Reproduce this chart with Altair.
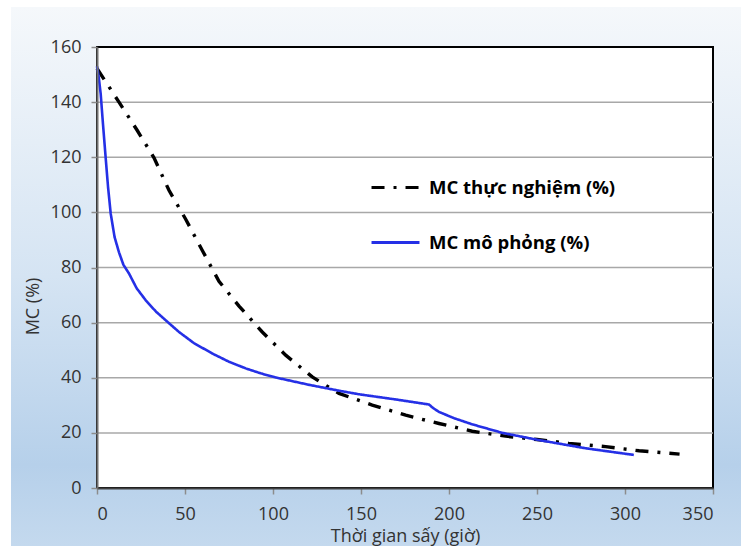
import altair as alt
import pandas as pd

# ---- data ----
exp_name = "MC thực nghiệm (%)"
sim_name = "MC mô phỏng (%)"

exp_t = [0, 12.5, 22.9, 32.4, 40.9, 50.4, 60, 69.3, 80.7, 93.9, 107.2, 122.3,
         137.5, 156.4, 175.4, 194.3, 213.2, 232.2, 250, 268, 289, 308, 331]
exp_v = [152.2, 140, 129.7, 119.8, 108, 97.5, 86, 75, 66, 56.6, 48.2, 40.3,
         34.3, 30.1, 26.4, 23.4, 20.6, 18.8, 17.6, 16.2, 15.0, 13.5, 12.3]

sim_t = [0, 1.0, 2.1, 3.4, 4.9, 6.3, 7.8, 10, 12.5, 15, 18.2, 22.5, 27.7, 33.5, 40,
         46.6, 55, 65.5, 75, 84.5, 93, 101.5, 120, 137.5, 148.9, 170, 188.6,
         191, 194.3, 203, 213.2, 230.3, 251, 277.7, 305]
sim_v = [153, 149, 143, 132, 120, 109, 99.5, 91, 85.5, 81, 77.8, 72.5, 68.1, 64, 60.3,
         56.6, 52.6, 48.8, 45.8, 43.4, 41.6, 40.1, 37.5, 35.3, 34.0, 32.1, 30.3,
         29.0, 27.6, 25.3, 23.1, 20, 17.4, 14.4, 12]

x_ticks = [0, 50, 100, 150, 200, 250, 300, 350]
y_ticks = [0, 20, 40, 60, 80, 100, 120, 140, 160]
grid_vals = [20, 40, 60, 80, 100, 120, 140]

x_title = "Thời gian sấy (giờ)"
y_title = "MC  (%)"

# ---- layout ----
W, H = 616, 441
PAD_L, PAD_T, PAD_R, PAD_B = 97, 47, 28, 58
FONT = "Open Sans"

exp_df = pd.DataFrame({"t": exp_t, "v": exp_v, "series": exp_name})
sim_df = pd.DataFrame({"t": sim_t, "v": sim_v, "series": sim_name})
grid_df = pd.DataFrame({"v": grid_vals})
one = pd.DataFrame({"a": [0]})

xscale = alt.Scale(domain=[0, 350], nice=False, zero=False)
yscale = alt.Scale(domain=[0, 160], nice=False)
names = [exp_name, sim_name]
color_scale = alt.Scale(domain=names, range=["#000000", "#2530e6"])
dash_scale = alt.Scale(domain=names, range=[[13, 9, 3, 9], [1, 0]])

bg = alt.Chart(one).mark_rect(
    color=alt.LinearGradient(
        gradient="linear",
        stops=[
            alt.GradientStop(offset=0, color="#f5f8fb"),
            alt.GradientStop(offset=0.5, color="#d5e4f3"),
            alt.GradientStop(offset=0.85, color="#b6d0ea"),
            alt.GradientStop(offset=1, color="#c4d9ee"),
        ],
        x1=0, x2=0, y1=0, y2=1,
    )
).encode(
    x=alt.value(-(PAD_L - 11)), x2=alt.value(W + PAD_R),
    y=alt.value(-(PAD_T - 7)), y2=alt.value(H + PAD_B),
)

plot_bg = alt.Chart(one).mark_rect(
    fill="white", stroke="black", strokeWidth=2
).encode(x=alt.value(0), x2=alt.value(W), y=alt.value(0), y2=alt.value(H))

legend = alt.Legend(
    title=None, orient="none", legendX=273, legendY=115,
    symbolType="stroke", symbolSize=2300, symbolStrokeWidth=3,
    labelFont=FONT, labelFontSize=18.5, labelFontWeight="bold",
    labelColor="#000000", labelOffset=8, labelLimit=400,
    rowPadding=20, padding=0, zindex=1,
)

xaxis = alt.Axis(
    values=x_ticks, title=x_title, grid=False, format="d",
    domainColor="#404040", domainWidth=2,
    tickColor="#8c8c8c", tickSize=6, tickWidth=1.5,
    labelPadding=11, labelFontSize=18, labelFont=FONT, labelColor="#333333",
    titleFont=FONT, titleFontSize=18, titleFontWeight="normal",
    titleColor="#333333", titleBaseline="alphabetic", titleY=53,
    zindex=1,
)
yaxis = alt.Axis(
    values=y_ticks, title=y_title, grid=False, format="d",
    domainColor="#707070", domainWidth=2,
    tickColor="#8c8c8c", tickSize=6, tickWidth=1.5,
    labelPadding=10, labelFontSize=18, labelFont=FONT, labelColor="#333333",
    titleFont=FONT, titleFontSize=18, titleFontWeight="normal",
    titleColor="#333333", titleX=-55, titleY=259, titleBaseline="bottom",
    zindex=1,
)
xenc = alt.X("t:Q", scale=xscale, axis=xaxis)
yenc = alt.Y("v:Q", scale=yscale, axis=yaxis)

grid = alt.Chart(grid_df).mark_rule(color="#a8a8a8", strokeWidth=1.5).encode(
    y=yenc, x=alt.value(0), x2=alt.value(W),
)

exp_line = alt.Chart(exp_df).mark_line(strokeWidth=3.4, strokeCap="butt").encode(
    x=xenc, y=yenc,
    color=alt.Color("series:N", scale=color_scale, legend=legend),
    strokeDash=alt.StrokeDash("series:N", scale=dash_scale, legend=legend),
)
sim_line = alt.Chart(sim_df).mark_line(strokeWidth=2.6).encode(
    x=xenc, y=yenc,
    color=alt.Color("series:N", scale=color_scale, legend=legend),
    strokeDash=alt.StrokeDash("series:N", scale=dash_scale, legend=legend),
)

chart = alt.layer(bg, plot_bg, grid, exp_line, sim_line).properties(
    width=W, height=H,
    autosize=alt.AutoSizeParams(type="none"),
    padding={"left": PAD_L, "top": PAD_T, "right": PAD_R, "bottom": PAD_B},
    background="white",
).configure_view(stroke=None)

chart.save("out.html", embed_options={"renderer": "svg", "actions": False})
